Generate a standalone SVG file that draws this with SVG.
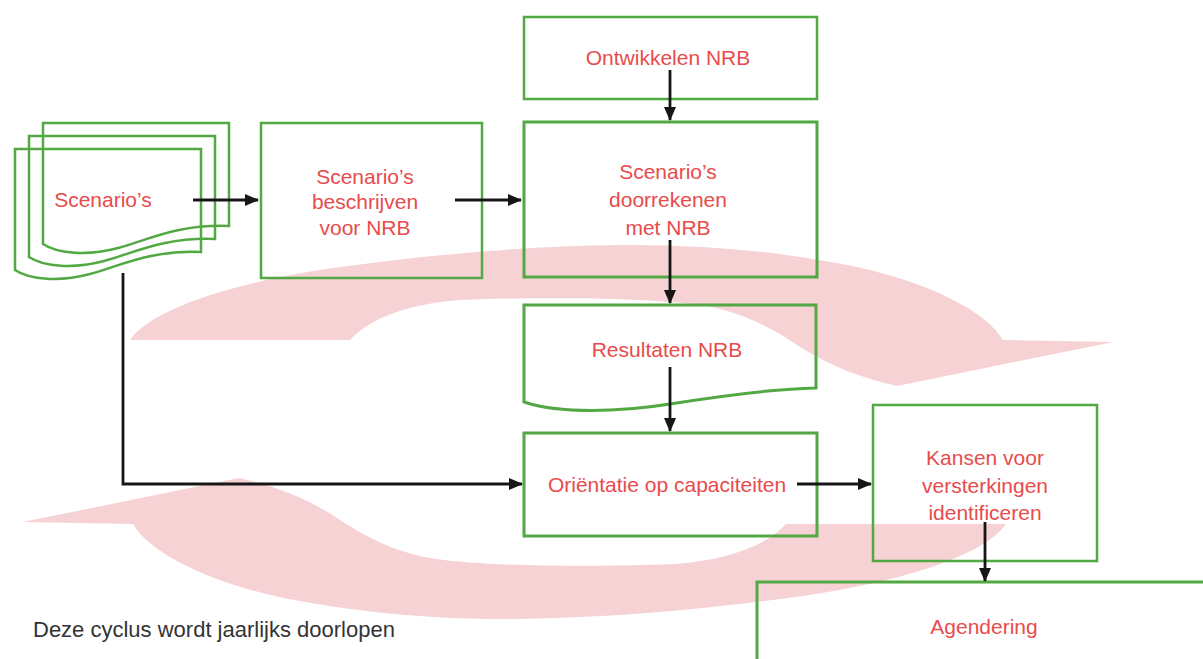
<svg xmlns="http://www.w3.org/2000/svg" width="1203" height="659" viewBox="0 0 1203 659">
<style>
.box{fill:none;stroke:#52a842;stroke-width:2.5}
.thick{stroke-width:3}
.lbl{font-family:"Liberation Sans",Arial,sans-serif;font-size:21px;fill:#e84b4b;text-anchor:middle}
.cap{font-family:"Liberation Sans",Arial,sans-serif;font-size:22px;fill:#333333}
.con{fill:none;stroke:#161616;stroke-width:2.8}
.cyc{fill:#f6d2d4}
</style>
<defs>
<marker id="ah" markerUnits="userSpaceOnUse" markerWidth="14" markerHeight="12" refX="13" refY="6" orient="auto">
<path d="M0,0 L14,6 L0,12 Z" fill="#161616"/>
</marker>
<path id="cycarrow" d="M130,340 C150,310 230,283 333,268 C420,256 520,246 620,245 C720,244 810,256 870,270 C930,285 985,310 1003,340 L1113,342 L897,386 C860,378 830,365 805,350 C775,330 745,312 700,305 C640,297 540,297 460,300 C405,304 368,320 350,340 Z"/>
<path id="doc" d="M15,149 H201 V252 C150,250 120,266 90,274 C60,282 30,280 15,270 Z"/>
</defs>
<rect width="1203" height="659" fill="#ffffff"/>
<g id="cycle">
<use href="#cycarrow" class="cyc"/>
<use href="#cycarrow" class="cyc" transform="rotate(180 568 432)"/>
</g>
<g id="scenarios">
<use href="#doc" class="box" transform="translate(28,-26)"/>
<use href="#doc" class="box" transform="translate(14,-13)"/>
<use href="#doc" class="box"/>
<text class="lbl" x="103" y="207">Scenario’s</text>
</g>
<g id="beschrijven">
<rect class="box" x="261" y="123" width="221" height="155"/>
<text class="lbl" x="365" y="184">Scenario’s</text>
<text class="lbl" x="365" y="209">beschrijven</text>
<text class="lbl" x="365" y="235">voor NRB</text>
</g>
<g id="ontwikkelen">
<rect class="box" x="524" y="17" width="293" height="82"/>
<text class="lbl" x="668" y="65">Ontwikkelen NRB</text>
</g>
<g id="doorrekenen">
<rect class="box thick" x="524" y="122" width="293" height="155"/>
<text class="lbl" x="668" y="179">Scenario’s</text>
<text class="lbl" x="668" y="207">doorrekenen</text>
<text class="lbl" x="668" y="235">met NRB</text>
</g>
<g id="resultaten">
<path class="box thick" d="M524,305 H816 V388 C770,389 720,396 670,404 C620,412 560,414 524,402 Z"/>
<text class="lbl" x="667" y="357">Resultaten NRB</text>
</g>
<g id="orientatie">
<rect class="box thick" x="524" y="433" width="293" height="103"/>
<text class="lbl" x="667" y="492">Oriëntatie op capaciteiten</text>
</g>
<g id="kansen">
<rect class="box" x="873" y="405" width="224" height="156"/>
<text class="lbl" x="985" y="465">Kansen voor</text>
<text class="lbl" x="985" y="493">versterkingen</text>
<text class="lbl" x="985" y="520">identificeren</text>
</g>
<g id="agendering">
<path class="box thick" d="M757,660 V582 H1205"/>
<text class="lbl" x="984" y="634">Agendering</text>
</g>
<g id="caption">
<text class="cap" x="33" y="637">Deze cyclus wordt jaarlijks doorlopen</text>
</g>
<g id="connectors">
<path class="con" d="M193,200 H258" marker-end="url(#ah)"/>
<path class="con" d="M455,200 H521" marker-end="url(#ah)"/>
<path class="con" d="M670,70 V120" marker-end="url(#ah)"/>
<path class="con" d="M670,240 V303" marker-end="url(#ah)"/>
<path class="con" d="M670,367 V431" marker-end="url(#ah)"/>
<path class="con" d="M123,273 V484 H522" marker-end="url(#ah)"/>
<path class="con" d="M797,484 H871" marker-end="url(#ah)"/>
<path class="con" d="M985,522 V581" marker-end="url(#ah)"/>
</g>
</svg>
